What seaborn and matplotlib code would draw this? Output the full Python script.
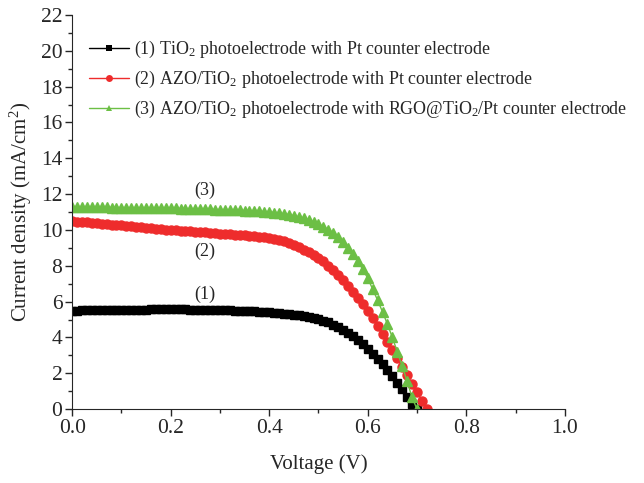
import numpy as np
import pandas as pd
import matplotlib
matplotlib.use("Agg")
import matplotlib.pyplot as plt
import seaborn as sns
from matplotlib.ticker import MultipleLocator

# voltage sweep (V)
voltage = [0.00, 0.01, 0.02, 0.03, 0.04, 0.05, 0.06, 0.07, 0.08, 0.09,
           0.10, 0.11, 0.12, 0.13, 0.14, 0.15, 0.16, 0.17, 0.18, 0.19,
           0.20, 0.21, 0.22, 0.23, 0.24, 0.25, 0.26, 0.27, 0.28, 0.29,
           0.30, 0.31, 0.32, 0.33, 0.34, 0.35, 0.36, 0.37, 0.38, 0.39,
           0.40, 0.41, 0.42, 0.43, 0.44, 0.45, 0.46, 0.47, 0.48, 0.49,
           0.50, 0.51, 0.52, 0.53, 0.54, 0.55, 0.56, 0.57, 0.58, 0.59,
           0.60, 0.61, 0.62, 0.63, 0.64, 0.65, 0.66, 0.67, 0.68, 0.69,
           0.70, 0.71, 0.72]

# (1) TiO2 / Pt
j_tio2 = [5.50, 5.50, 5.51, 5.51, 5.52, 5.52, 5.52, 5.53, 5.53, 5.53,
          5.54, 5.54, 5.54, 5.55, 5.55, 5.55, 5.56, 5.56, 5.56, 5.56,
          5.56, 5.56, 5.56, 5.56, 5.55, 5.55, 5.55, 5.55, 5.54, 5.54,
          5.53, 5.52, 5.51, 5.50, 5.49, 5.48, 5.47, 5.46, 5.44, 5.42,
          5.40, 5.38, 5.36, 5.33, 5.30, 5.27, 5.23, 5.19, 5.14, 5.08,
          5.01, 4.93, 4.84, 4.72, 4.58, 4.42, 4.25, 4.06, 3.86, 3.62,
          3.35, 3.08, 2.80, 2.50, 2.18, 1.84, 1.48, 1.10, 0.70, 0.28,
          0.00]

# (2) AZO/TiO2 / Pt
j_azo = [10.50, 10.47, 10.45, 10.42, 10.40, 10.37, 10.35, 10.32, 10.30, 10.27,
         10.25, 10.22, 10.20, 10.17, 10.15, 10.12, 10.10, 10.07, 10.05, 10.02,
         10.00, 9.98, 9.96, 9.94, 9.92, 9.90, 9.88, 9.86, 9.84, 9.82,
         9.80, 9.78, 9.76, 9.74, 9.72, 9.70, 9.68, 9.65, 9.62, 9.59,
         9.55, 9.50, 9.44, 9.37, 9.27, 9.15, 9.03, 8.90, 8.77, 8.62,
         8.46, 8.24, 8.00, 7.75, 7.48, 7.20, 6.88, 6.55, 6.21, 5.86,
         5.50, 5.08, 4.65, 4.22, 3.77, 3.30, 2.83, 2.36, 1.89, 1.42,
         0.95, 0.48, 0.00]

# (3) AZO/TiO2 / RGO@TiO2/Pt
j_rgo = [11.28, 11.28, 11.27, 11.27, 11.27, 11.26, 11.26, 11.26, 11.25, 11.25,
         11.25, 11.24, 11.24, 11.24, 11.23, 11.23, 11.22, 11.22, 11.21, 11.21,
         11.20, 11.20, 11.19, 11.19, 11.18, 11.17, 11.17, 11.16, 11.15, 11.14,
         11.13, 11.12, 11.11, 11.10, 11.09, 11.08, 11.07, 11.05, 11.04, 11.02,
         11.00, 10.97, 10.94, 10.90, 10.85, 10.79, 10.72, 10.64, 10.55, 10.44,
         10.32, 10.18, 10.02, 9.84, 9.61, 9.35, 9.01, 8.65, 8.24, 7.80,
         7.30, 6.70, 6.08, 5.43, 4.74, 4.00, 3.20, 2.40, 1.55, 0.65,
         0.00]

labels = ["(1) TiO$_2$ photoelectrode with Pt counter electrode",
          "(2) AZO/TiO$_2$ photoelectrode with Pt counter electrode",
          "(3) AZO/TiO$_2$ photoelectrode with RGO@TiO$_2$/Pt counter electrode"]
tags = ["(1)", "(2)", "(3)"]
tag_x = [0.27, 0.27, 0.27]
tag_y = [6.4, 8.8, 12.2]

sns.set_style("ticks")
plt.rcParams['font.family'] = ['Liberation Serif', 'DejaVu Serif']
plt.rcParams['mathtext.fontset'] = 'custom'
plt.rcParams['mathtext.rm'] = 'Liberation Serif'
plt.rcParams['mathtext.it'] = 'Liberation Serif:italic'

fig = plt.figure(figsize=(6.44, 4.83), dpi=100)
ax = fig.add_axes([0.112, 0.153, 0.765, 0.816])

series = [(j_tio2, "black", "s", 6.0), (j_azo, "#ee2c2c", "o", 6.5), (j_rgo, "#6cbf45", "^", 7.0)]
for (j, col, mk, ms), lab in zip(series, labels):
    df = pd.DataFrame({"V": voltage[:len(j)], "J": j})
    sns.lineplot(data=df, x="V", y="J", ax=ax, color=col, marker=mk, markersize=ms,
                 markeredgewidth=1.0, markeredgecolor=col, linewidth=1, label=lab, sort=False)

for t, x, y in zip(tags, tag_x, tag_y):
    ax.text(x, y, t, fontsize=13, ha="center", va="center")

ax.set_xlim(0, 1.0)
ax.set_ylim(0, 22)
ax.xaxis.set_major_locator(MultipleLocator(0.2))
ax.xaxis.set_minor_locator(MultipleLocator(0.1))
ax.yaxis.set_major_locator(MultipleLocator(2))
ax.yaxis.set_minor_locator(MultipleLocator(1))
ax.tick_params(which="major", length=5, width=1, labelsize=15.5, direction="out", pad=2)
ax.tick_params(which="minor", length=3, width=1, direction="out")
ax.set_xticklabels([f"{v:.1f}" for v in ax.get_xticks()])
sns.despine(ax=ax)
ax.set_xlabel("Voltage (V)", fontsize=15, labelpad=12)
ax.set_ylabel("Current density (mA/cm$^2$)", fontsize=15, labelpad=5)

leg = ax.legend(loc="upper left", bbox_to_anchor=(0.02, 0.957), frameon=False, fontsize=12.9,
                numpoints=1, handlelength=2.2, handletextpad=0.3, labelspacing=0.5,
                borderaxespad=0)
for h in leg.legend_handles:
    h.set_markersize(5)
    h.set_markeredgewidth(0)
    h.set_linewidth(1)

fig.savefig("out.png", dpi=100)
